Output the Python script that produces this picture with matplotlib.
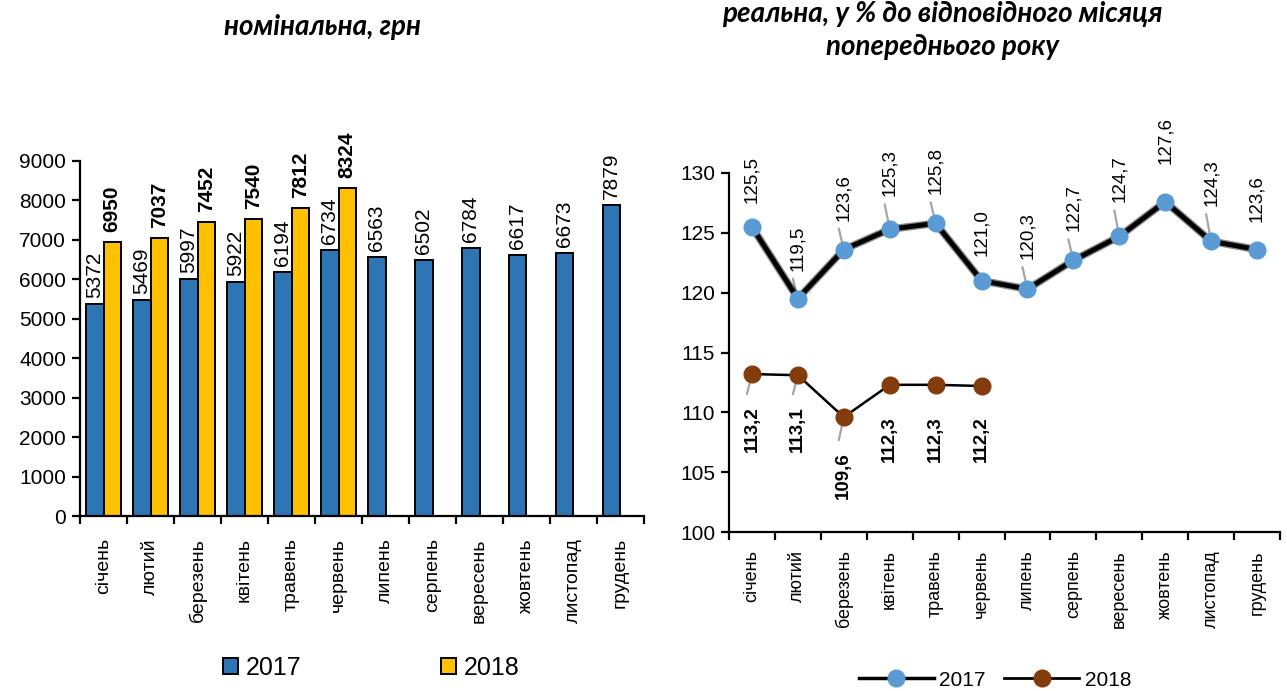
import numpy as np
import matplotlib
matplotlib.use("Agg")
import matplotlib.pyplot as plt
from matplotlib.patches import Patch
from matplotlib.lines import Line2D

plt.rcParams['font.family'] = ['Liberation Sans', 'DejaVu Sans']

# data
months = ['січень', 'лютий', 'березень', 'квітень', 'травень', 'червень',
          'липень', 'серпень', 'вересень', 'жовтень', 'листопад', 'грудень']

nominal_2017 = [5372, 5469, 5997, 5922, 6194, 6734, 6563, 6502, 6784, 6617, 6673, 7879]
nominal_2018 = [6950, 7037, 7452, 7540, 7812, 8324]

real_2017 = [125.5, 119.5, 123.6, 125.3, 125.8, 121.0, 120.3, 122.7, 124.7, 127.6, 124.3, 123.6]
real_2018 = [113.2, 113.1, 109.6, 112.3, 112.3, 112.2]

# label placement (pixels from the marker) and which labels get a leader line
lab_off_2017 = [24, 28, 29, 33, 29, 25, 30, 29, 34, 38, 35, 28]
leader_2017 = [False, True, True, True, True, False, True, True, True, False, True, False]
lab_off_2018 = [32, 31, 35, 31, 31, 30]
leader_2018 = [True, True, True, False, False, False]

blue_bar = '#2E75B6'
yellow_bar = '#FFC000'
blue_pt = '#5B9BD5'
brown_pt = '#843C0C'
grey_lead = '#A6A6A6'
title_font = ['Lato', 'DejaVu Sans']


def fmt(v):
    return f'{v:.1f}'.replace('.', ',')


def style_axis(ax, n, fs_cat, cat_pad):
    for s in ['top', 'right']:
        ax.spines[s].set_visible(False)
    for s in ['left', 'bottom']:
        ax.spines[s].set_linewidth(1.6)
    ax.set_xlim(-0.5, n - 0.5)
    ax.set_xticks(np.arange(-0.5, n, 1.0))
    ax.set_xticklabels([])
    ax.set_xticks(np.arange(n), minor=True)
    ax.set_xticklabels(months, minor=True, rotation=90, fontsize=fs_cat, va='top')
    ax.tick_params(axis='x', which='major', direction='out', length=6, width=1.6)
    ax.tick_params(axis='x', which='minor', length=0, pad=cat_pad)
    ax.tick_params(axis='y', direction='out', length=6, width=1.6, labelsize=15, pad=4)


fig = plt.figure(figsize=(12.87, 6.91), dpi=100)

# ---- left: nominal wages, bars ----
ax1 = fig.add_axes([80 / 1287, 175 / 691, 564 / 1287, 355 / 691])
x = np.arange(len(months))
w = 0.37
ax1.bar(x - w / 2, nominal_2017, w, color=blue_bar, edgecolor='black', linewidth=1.4, zorder=2)
x18 = np.arange(len(nominal_2018))
ax1.bar(x18 + w / 2, nominal_2018, w, color=yellow_bar, edgecolor='black', linewidth=1.4, zorder=2)

for xi, v in zip(x - w / 2, nominal_2017):
    ax1.annotate(str(v), (xi, v), xytext=(0, 6), textcoords='offset pixels',
                 rotation=90, ha='center', va='bottom', fontsize=15, annotation_clip=False)
for xi, v in zip(x18 + w / 2, nominal_2018):
    ax1.annotate(str(v), (xi, v), xytext=(0, 10), textcoords='offset pixels',
                 rotation=90, ha='center', va='bottom', fontsize=15, fontweight='bold',
                 annotation_clip=False)

ax1.set_ylim(0, 9000)
ax1.set_yticks(np.arange(0, 9001, 1000))
style_axis(ax1, len(months), 14, 16)

fig.text(322 / 1287, 1 - 27 / 691, 'номінальна, грн', ha='center', va='center',
         fontsize=20, fontweight='bold', style='italic', family=title_font)

fig.legend(handles=[Patch(facecolor=blue_bar, edgecolor='black', linewidth=1.4, label='2017'),
                    Patch(facecolor=yellow_bar, edgecolor='black', linewidth=1.4, label='2018')],
           loc='center', bbox_to_anchor=(371 / 1287, 1 - 668 / 691), ncol=2, frameon=False,
           fontsize=18, handlelength=0.6, handleheight=0.6, handletextpad=0.3, columnspacing=5.6)

# ---- right: real wages, lines ----
ax2 = fig.add_axes([729 / 1287, 159 / 691, 551 / 1287, 359 / 691])
xr = np.arange(len(real_2017))
xr18 = np.arange(len(real_2018))

ax2.plot(xr, real_2017, color='#3A3A3A', lw=5.5, alpha=0.6, zorder=3, solid_capstyle='round')
ax2.plot(xr, real_2017, color='black', lw=3.5, zorder=3)
ax2.plot(xr, real_2017, ls='none', marker='o', ms=12, color=blue_pt, zorder=5)
ax2.plot(xr18, real_2018, color='black', lw=1.8, zorder=3)
ax2.plot(xr18, real_2018, ls='none', marker='o', ms=12, color=brown_pt, zorder=5)

for xi, v, off, lead in zip(xr, real_2017, lab_off_2017, leader_2017):
    ax2.annotate(fmt(v), (xi, v), xytext=(0, off), textcoords='offset pixels',
                 rotation=90, ha='center', va='bottom', fontsize=13.5, annotation_clip=False)
    if lead:
        ax2.annotate('', (xi, v), xytext=(-5, off - 8), textcoords='offset pixels',
                     arrowprops=dict(arrowstyle='-', color=grey_lead, lw=1.6,
                                     shrinkA=0, shrinkB=0), zorder=2)
for xi, v, off, lead in zip(xr18, real_2018, lab_off_2018, leader_2018):
    ax2.annotate(fmt(v), (xi, v), xytext=(0, -off), textcoords='offset pixels',
                 rotation=90, ha='center', va='top', fontsize=13.5, fontweight='bold',
                 annotation_clip=False)
    if lead:
        ax2.annotate('', (xi, v), xytext=(-5, -(off - 12)), textcoords='offset pixels',
                     arrowprops=dict(arrowstyle='-', color=grey_lead, lw=1.6,
                                     shrinkA=0, shrinkB=0), zorder=2)

ax2.set_ylim(100, 130)
ax2.set_yticks(np.arange(100, 131, 5))
style_axis(ax2, len(months), 13, 13)

fig.text(942 / 1287, 1 - 14 / 691, 'реальна, у % до відповідного місяця', ha='center', va='center',
         fontsize=20, fontweight='bold', style='italic', family=title_font)
fig.text(943 / 1287, 1 - 47 / 691, 'попереднього року', ha='center', va='center',
         fontsize=20, fontweight='bold', style='italic', family=title_font)

fig.legend(handles=[Line2D([], [], color='black', lw=2.5, marker='o', ms=12,
                           markerfacecolor=blue_pt, markeredgecolor=blue_pt, label='2017'),
                    Line2D([], [], color='black', lw=2, marker='o', ms=12,
                           markerfacecolor=brown_pt, markeredgecolor=brown_pt, label='2018')],
           loc='center', bbox_to_anchor=(995 / 1287, 1 - 680 / 691), ncol=2, frameon=False,
           fontsize=15, handlelength=3.6, handletextpad=0.25, columnspacing=0.9)

fig.savefig('out.png', dpi=100)
